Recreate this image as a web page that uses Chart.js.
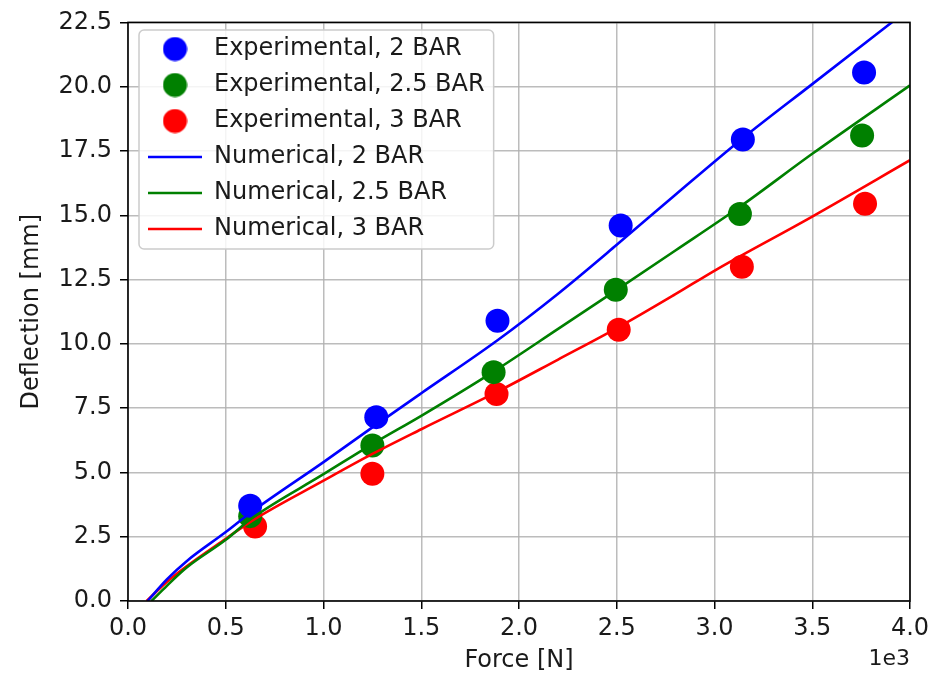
<!DOCTYPE html>
<html>
<head>
<meta charset="utf-8">
<script src="https://cdn.jsdelivr.net/npm/chart.js@4.4.1/dist/chart.umd.min.js"></script>
<style>
  html, body { margin: 0; padding: 0; background: #fff; }
  #wrap { width: 942px; height: 675px; position: relative; }
</style>
</head>
<body>
<div id="wrap"><canvas id="grafico"></canvas></div>
<script>
// Experimental points (force in N, deflection in mm)
const expForce2 = [625, 1270, 1890, 2520, 3145, 3765];
const expDefl2 = [3.7, 7.15, 10.9, 14.6, 17.95, 20.55];
const expForce25 = [625, 1250, 1870, 2495, 3130, 3755];
const expDefl25 = [3.3, 6.05, 8.9, 12.1, 15.05, 18.1];
const expForce3 = [650, 1250, 1885, 2510, 3140, 3770];
const expDefl3 = [2.9, 4.95, 8.05, 10.55, 13.0, 15.45];

// Numerical curves
const numForce2 = [100, 200, 300, 500, 630, 1000, 1250, 1500, 1890, 2200, 2500, 2800, 3140, 3500, 4000];
const numDefl2 = [0, 0.85, 1.55, 2.68, 3.45, 5.4, 6.75, 8.08, 10.14, 11.95, 13.85, 15.8, 17.97, 20.1, 23.05];
const numForce25 = [120, 200, 300, 500, 630, 1000, 1250, 1500, 1870, 2200, 2500, 2800, 3130, 3500, 4000];
const numDefl25 = [0, 0.6, 1.3, 2.38, 3.2, 4.93, 6.1, 7.2, 8.92, 10.58, 12.1, 13.63, 15.33, 17.39, 20.05];
const numForce3 = [95, 200, 300, 500, 630, 1000, 1250, 1500, 1890, 2200, 2510, 2800, 3010, 3500, 4000];
const numDefl3 = [0, 0.75, 1.35, 2.42, 3.1, 4.68, 5.72, 6.68, 8.14, 9.39, 10.65, 11.93, 12.89, 14.95, 17.14];

const etiquetas = ['Experimental, 2 BAR', 'Experimental, 2.5 BAR', 'Experimental, 3 BAR',
  'Numerical, 2 BAR', 'Numerical, 2.5 BAR', 'Numerical, 3 BAR'];
const colores = ['#0000ff', '#008000', '#ff0000'];

const FUENTE = 'DejaVu Sans';
const TEXTO = '#1a1a1a';

const pares = (xs, ys) => xs.map((x, i) => ({ x: x, y: ys[i] }));

function puntos(label, xs, ys, color) {
  return {
    type: 'scatter',
    label: label,
    data: pares(xs, ys),
    backgroundColor: color,
    borderColor: color,
    pointStyle: 'circle',
    pointRadius: 12,
    pointHoverRadius: 12,
    pointBorderWidth: 0,
    order: 1
  };
}

function curva(label, xs, ys, color) {
  return {
    type: 'line',
    label: label,
    data: pares(xs, ys),
    borderColor: color,
    backgroundColor: color,
    borderWidth: 2.6,
    pointRadius: 0,
    pointStyle: 'line',
    cubicInterpolationMode: 'monotone',
    fill: false,
    order: 0
  };
}

// round legend marker (so the wide legend box does not stretch it)
function circulo(color) {
  const c = document.createElement('canvas');
  c.width = 25; c.height = 25;
  const g = c.getContext('2d');
  g.fillStyle = color;
  g.beginPath();
  g.arc(12.5, 12.5, 12, 0, Math.PI * 2);
  g.fill();
  return c;
}

// legend frame + plot frame + offset text
const marcos = {
  id: 'marcos',
  afterLayout(chart) {
    const lg = chart.legend;
    if (!lg) return;
    lg.left += 8; lg.right += 8;
    lg.top += 25; lg.bottom += 25;
    if (!lg._conMarco) {
      const dibujar = lg.draw;
      lg.draw = function (...args) {
        const hb = this.legendHitBoxes;
        if (hb && hb.length) {
          const c = this.ctx;
          const x0 = hb[0].left - 9;
          const y0 = hb[0].top - 7;
          const x1 = Math.max(...hb.map(h => h.left + h.width)) + 9;
          const ult = hb[hb.length - 1];
          const y1 = ult.top + ult.height + 8;
          c.save();
          c.beginPath();
          c.roundRect(x0, y0, x1 - x0, y1 - y0, 5);
          c.fillStyle = 'rgba(255,255,255,0.85)';
          c.fill();
          c.strokeStyle = '#cccccc';
          c.lineWidth = 1.5;
          c.stroke();
          c.restore();
        }
        return dibujar.apply(this, args);
      };
      lg._conMarco = true;
    }
  },
  afterDraw(chart) {
    const { ctx, chartArea: a } = chart;
    ctx.save();
    ctx.strokeStyle = '#000';
    ctx.lineWidth = 1.6;
    ctx.strokeRect(a.left, a.top, a.right - a.left, a.bottom - a.top);
    ctx.fillStyle = TEXTO;
    ctx.font = '22px "' + FUENTE + '"';
    ctx.textAlign = 'right';
    ctx.textBaseline = 'alphabetic';
    ctx.fillText('1e3', a.right, 665);
    ctx.restore();
  }
};

document.addEventListener('DOMContentLoaded', () => {
  const datos = {
    datasets: [
      puntos(etiquetas[0], expForce2, expDefl2, colores[0]),
      puntos(etiquetas[1], expForce25, expDefl25, colores[1]),
      puntos(etiquetas[2], expForce3, expDefl3, colores[2]),
      curva(etiquetas[3], numForce2, numDefl2, colores[0]),
      curva(etiquetas[4], numForce25, numDefl25, colores[1]),
      curva(etiquetas[5], numForce3, numDefl3, colores[2])
    ]
  };

  const rejilla = {
    color: 'rgba(176,176,176,0.85)',
    lineWidth: 1.5,
    drawTicks: true,
    tickLength: 8,
    tickColor: '#000',
    tickWidth: 1.5
  };

  const defecto = Chart.defaults.plugins.legend.labels.generateLabels;

  const config = {
    type: 'scatter',
    data: datos,
    options: {
      responsive: true,
      maintainAspectRatio: false,
      animation: false,
      layout: { padding: { top: 17, right: 32, left: 0, bottom: 0 } },
      plugins: {
        tooltip: { enabled: false },
        legend: {
          position: 'chartArea',
          align: 'start',
          labels: {
            usePointStyle: true,
            pointStyleWidth: 54,
            boxHeight: 17,
            padding: 12,
            color: TEXTO,
            font: { family: FUENTE, size: 24 },
            sort: (a, b) => a.datasetIndex - b.datasetIndex,
            generateLabels: (chart) => defecto(chart).map((it) => {
              if (it.datasetIndex < 3) it.pointStyle = circulo(colores[it.datasetIndex]);
              return it;
            })
          }
        }
      },
      scales: {
        x: {
          type: 'linear',
          min: 0,
          max: 4000,
          afterFit: (s) => { s.height = 74; },
          ticks: {
            stepSize: 500,
            padding: 5,
            color: TEXTO,
            font: { family: FUENTE, size: 24 },
            maxRotation: 0,
            callback: (v) => (v / 1000).toFixed(1)
          },
          grid: rejilla,
          border: { display: false },
          title: {
            display: true,
            text: 'Force [N]',
            color: TEXTO,
            font: { family: FUENTE, size: 24 },
            padding: { top: 0, bottom: 0 }
          }
        },
        y: {
          type: 'linear',
          min: 0,
          max: 22.5,
          afterFit: (s) => { s.width = 128; },
          ticks: {
            stepSize: 2.5,
            padding: 8,
            color: TEXTO,
            font: { family: FUENTE, size: 24 },
            callback: (v) => v.toFixed(1)
          },
          grid: rejilla,
          border: { display: false },
          title: {
            display: true,
            text: 'Deflection [mm]',
            color: TEXTO,
            font: { family: FUENTE, size: 24 },
            padding: { top: 17, bottom: 0 }
          }
        }
      }
    },
    plugins: [marcos]
  };

  const ctx = document.getElementById('grafico').getContext('2d');
  new Chart(ctx, config);
});
</script>
</body>
</html>
